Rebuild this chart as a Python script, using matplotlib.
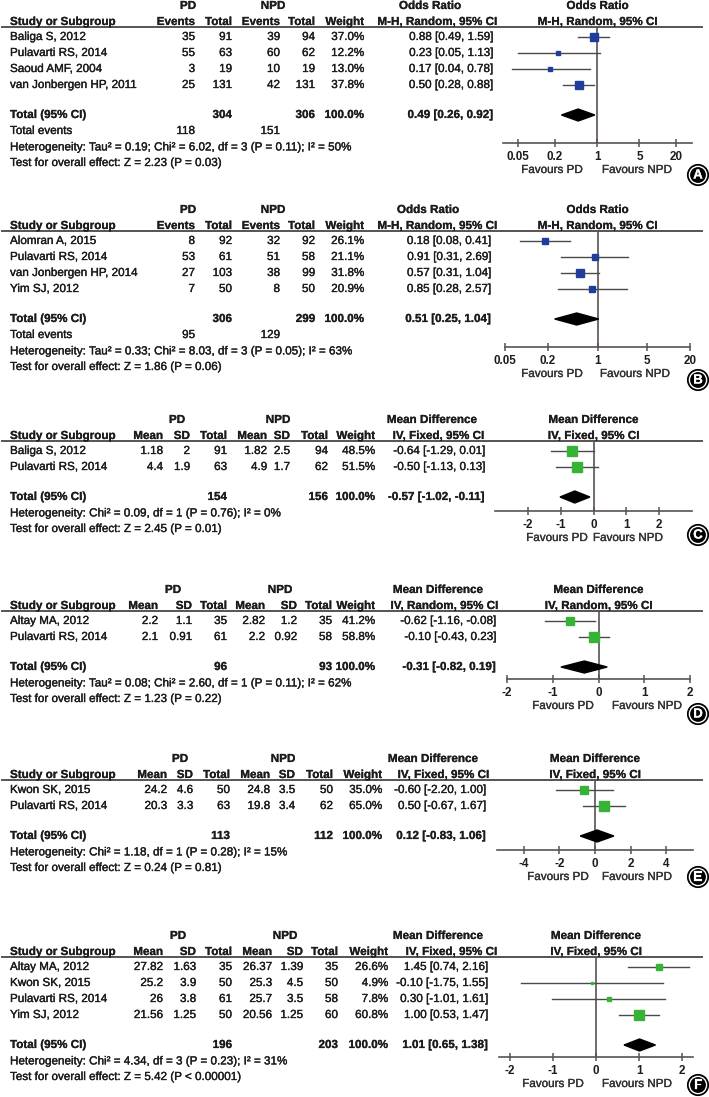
import matplotlib
matplotlib.use('Agg')
import matplotlib.pyplot as plt
import matplotlib.patheffects as pe_
from matplotlib.patches import Circle, Polygon
import numpy as np

plt.rcParams['font.family'] = ['Liberation Sans', 'DejaVu Sans']
plt.rcParams['font.size'] = 8.4

W, H = 709, 1097

# ---------------- data ----------------
# A - odds ratio
a_studies = ['Baliga S, 2012', 'Pulavarti RS, 2014', 'Saoud AMF, 2004', 'van Jonbergen HP, 2011']
a_pd_events = [35, 55, 3, 25]
a_pd_total = [91, 63, 19, 131]
a_npd_events = [39, 60, 10, 42]
a_npd_total = [94, 62, 19, 131]
a_weight = [37.0, 12.2, 13.0, 37.8]
a_or = [0.88, 0.23, 0.17, 0.50]
a_lo = [0.49, 0.05, 0.04, 0.28]
a_hi = [1.59, 1.13, 0.78, 0.88]
a_pooled = [0.49, 0.26, 0.92]
a_totals = [304, 306]
a_events = [118, 151]
a_het = 'Heterogeneity: Tau² = 0.19; Chi² = 6.02, df = 3 (P = 0.11); I² = 50%'
a_test = 'Test for overall effect: Z = 2.23 (P = 0.03)'

# B - odds ratio
b_studies = ['Alomran A, 2015', 'Pulavarti RS, 2014', 'van Jonbergen HP, 2014', 'Yim SJ, 2012']
b_pd_events = [8, 53, 27, 7]
b_pd_total = [92, 61, 103, 50]
b_npd_events = [32, 51, 38, 8]
b_npd_total = [92, 58, 99, 50]
b_weight = [26.1, 21.1, 31.8, 20.9]
b_or = [0.18, 0.91, 0.57, 0.85]
b_lo = [0.08, 0.31, 0.31, 0.28]
b_hi = [0.41, 2.69, 1.04, 2.57]
b_pooled = [0.51, 0.25, 1.04]
b_totals = [306, 299]
b_events = [95, 129]
b_het = 'Heterogeneity: Tau² = 0.33; Chi² = 8.03, df = 3 (P = 0.05); I² = 63%'
b_test = 'Test for overall effect: Z = 1.86 (P = 0.06)'

# C - mean difference
c_studies = ['Baliga S, 2012', 'Pulavarti RS, 2014']
c_pd_mean = [1.18, 4.4]
c_pd_sd = [2, 1.9]
c_pd_total = [91, 63]
c_npd_mean = [1.82, 4.9]
c_npd_sd = [2.5, 1.7]
c_npd_total = [94, 62]
c_weight = [48.5, 51.5]
c_md = [-0.64, -0.50]
c_lo = [-1.29, -1.13]
c_hi = [0.01, 0.13]
c_pooled = [-0.57, -1.02, -0.11]
c_totals = [154, 156]
c_het = 'Heterogeneity: Chi² = 0.09, df = 1 (P = 0.76); I² = 0%'
c_test = 'Test for overall effect: Z = 2.45 (P = 0.01)'

# D - mean difference
d_studies = ['Altay MA, 2012', 'Pulavarti RS, 2014']
d_pd_mean = [2.2, 2.1]
d_pd_sd = [1.1, 0.91]
d_pd_total = [35, 61]
d_npd_mean = [2.82, 2.2]
d_npd_sd = [1.2, 0.92]
d_npd_total = [35, 58]
d_weight = [41.2, 58.8]
d_md = [-0.62, -0.10]
d_lo = [-1.16, -0.43]
d_hi = [-0.08, 0.23]
d_pooled = [-0.31, -0.82, 0.19]
d_totals = [96, 93]
d_het = 'Heterogeneity: Tau² = 0.08; Chi² = 2.60, df = 1 (P = 0.11); I² = 62%'
d_test = 'Test for overall effect: Z = 1.23 (P = 0.22)'

# E - mean difference
e_studies = ['Kwon SK, 2015', 'Pulavarti RS, 2014']
e_pd_mean = [24.2, 20.3]
e_pd_sd = [4.6, 3.3]
e_pd_total = [50, 63]
e_npd_mean = [24.8, 19.8]
e_npd_sd = [3.5, 3.4]
e_npd_total = [50, 62]
e_weight = [35.0, 65.0]
e_md = [-0.60, 0.50]
e_lo = [-2.20, -0.67]
e_hi = [1.00, 1.67]
e_pooled = [0.12, -0.83, 1.06]
e_totals = [113, 112]
e_het = 'Heterogeneity: Chi² = 1.18, df = 1 (P = 0.28); I² = 15%'
e_test = 'Test for overall effect: Z = 0.24 (P = 0.81)'

# F - mean difference
f_studies = ['Altay MA, 2012', 'Kwon SK, 2015', 'Pulavarti RS, 2014', 'Yim SJ, 2012']
f_pd_mean = [27.82, 25.2, 26, 21.56]
f_pd_sd = [1.63, 3.9, 3.8, 1.25]
f_pd_total = [35, 50, 61, 50]
f_npd_mean = [26.37, 25.3, 25.7, 20.56]
f_npd_sd = [1.39, 4.5, 3.5, 1.25]
f_npd_total = [35, 50, 58, 60]
f_weight = [26.6, 4.9, 7.8, 60.8]
f_md = [1.45, -0.10, 0.30, 1.00]
f_lo = [0.74, -1.75, -1.01, 0.53]
f_hi = [2.16, 1.55, 1.61, 1.47]
f_pooled = [1.01, 0.65, 1.38]
f_totals = [196, 203]
f_het = 'Heterogeneity: Chi² = 4.34, df = 3 (P = 0.23); I² = 31%'
f_test = 'Test for overall effect: Z = 5.42 (P < 0.00001)'

or_ticks = [0.05, 0.2, 1, 5, 20]
md_ticks_small = [-2, -1, 0, 1, 2]
md_ticks_wide = [-4, -2, 0, 2, 4]

BLUE = '#1f3d9b'
GREEN = '#36b336'
INK = '#1c1c1c'
GREY = '#4a4a4a'
AXIS = '#5a5252'

panels = [
    dict(letter='A', top=22, log=True, studies=a_studies,
         cols=[('Events', 195, a_pd_events), ('Total', 232, a_pd_total),
               ('Events', 280, a_npd_events), ('Total', 315, a_npd_total)],
         tot_x=(232, 315), totals=a_totals, ev_x=(195, 280), events=a_events,
         grp_x=(188, 273), w_x=364, weight=a_weight,
         est=a_or, lo=a_lo, hi=a_hi, pooled=a_pooled, est_x=493,
         meas='Odds Ratio', meas_x=430, method='M-H, Random, 95% CI', method_x=497,
         het=a_het, test=a_test, ax_x=(503, 692), xlim=(0.0283, 36.7),
         ticks=or_ticks, axis_y=143, fav_x=(552, 637), circ_y=175, color=BLUE),
    dict(letter='B', top=226, log=True, studies=b_studies,
         cols=[('Events', 195, b_pd_events), ('Total', 232, b_pd_total),
               ('Events', 280, b_npd_events), ('Total', 315, b_npd_total)],
         tot_x=(232, 315), totals=b_totals, ev_x=(195, 280), events=b_events,
         grp_x=(188, 273), w_x=364, weight=b_weight,
         est=b_or, lo=b_lo, hi=b_hi, pooled=b_pooled, est_x=491,
         meas='Odds Ratio', meas_x=428, method='M-H, Random, 95% CI', method_x=497,
         het=b_het, test=b_test, ax_x=(505, 690), xlim=(0.05, 20),
         ticks=or_ticks, axis_y=347, fav_x=(552, 635), circ_y=380, color=BLUE),
    dict(letter='C', top=436, log=False, studies=c_studies,
         cols=[('Mean', 163, c_pd_mean), ('SD', 190, c_pd_sd), ('Total', 227, c_pd_total),
               ('Mean', 267, c_npd_mean), ('SD', 290, c_npd_sd), ('Total', 328, c_npd_total)],
         tot_x=(227, 328), totals=c_totals, ev_x=None, events=None,
         grp_x=(177, 278), w_x=375, weight=c_weight,
         est=c_md, lo=c_lo, hi=c_hi, pooled=c_pooled, est_x=485,
         meas='Mean Difference', meas_x=432, method='IV, Fixed, 95% CI', method_x=484,
         het=c_het, test=c_test, ax_x=(495, 692), xlim=(-3, 3),
         ticks=md_ticks_small, axis_y=511, fav_x=(557, 628), circ_y=535, color=GREEN),
    dict(letter='D', top=606, log=False, studies=d_studies,
         cols=[('Mean', 158, d_pd_mean), ('SD', 192, d_pd_sd), ('Total', 227, d_pd_total),
               ('Mean', 265, d_npd_mean), ('SD', 297, d_npd_sd), ('Total', 332, d_npd_total)],
         tot_x=(227, 332), totals=d_totals, ev_x=None, events=None,
         grp_x=(173, 280), w_x=375, weight=d_weight,
         est=d_md, lo=d_lo, hi=d_hi, pooled=d_pooled, est_x=496,
         meas='Mean Difference', meas_x=438, method='IV, Random, 95% CI', method_x=498,
         het=d_het, test=d_test, ax_x=(507, 690), xlim=(-2, 2),
         ticks=md_ticks_small, axis_y=679, fav_x=(563, 647), circ_y=714, color=GREEN),
    dict(letter='E', top=775, log=False, studies=e_studies,
         cols=[('Mean', 167, e_pd_mean), ('SD', 193, e_pd_sd), ('Total', 230, e_pd_total),
               ('Mean', 270, e_npd_mean), ('SD', 295, e_npd_sd), ('Total', 333, e_npd_total)],
         tot_x=(230, 333), totals=e_totals, ev_x=None, events=None,
         grp_x=(180, 283), w_x=382, weight=e_weight,
         est=e_md, lo=e_lo, hi=e_hi, pooled=e_pooled, est_x=486,
         meas='Mean Difference', meas_x=433, method='IV, Fixed, 95% CI', method_x=489,
         het=e_het, test=e_test, ax_x=(497, 693), xlim=(-5.5, 5.5),
         ticks=md_ticks_wide, axis_y=850, fav_x=(558, 637), circ_y=877, color=GREEN),
    dict(letter='F', top=952, log=False, studies=f_studies,
         cols=[('Mean', 163, f_pd_mean), ('SD', 196, f_pd_sd), ('Total', 232, f_pd_total),
               ('Mean', 272, f_npd_mean), ('SD', 303, f_npd_sd), ('Total', 338, f_npd_total)],
         tot_x=(232, 338), totals=f_totals, ev_x=None, events=None,
         grp_x=(178, 285), w_x=388, weight=f_weight,
         est=f_md, lo=f_lo, hi=f_hi, pooled=f_pooled, est_x=488,
         meas='Mean Difference', meas_x=438, method='IV, Fixed, 95% CI', method_x=497,
         het=f_het, test=f_test, ax_x=(499, 693), xlim=(-2.25, 2.25),
         ticks=md_ticks_small, axis_y=1057, fav_x=(553, 637), circ_y=1085, color=GREEN),
]

fig = plt.figure(figsize=(W / 100, H / 100), dpi=100)
bg = fig.add_axes([0, 0, 1, 1])
bg.set_xlim(0, W)
bg.set_ylim(H, 0)
bg.axis('off')


def txt(x, y, s, ha='left', bold=False, color=INK, **kw):
    t = bg.text(x, y, s, ha=ha, va='center', color=color,
                fontweight='bold' if bold else 'normal', **kw)
    # the scan looks a touch heavier than plain text
    t.set_path_effects([pe_.withStroke(linewidth=0.15 if bold else 0.25, foreground=color)])


def fmt(v):
    return f'{v:g}'


for p in panels:
    top = p['top']
    rows = [top + 15 + 16 * i for i in range(len(p['studies']))]
    total_y = rows[-1] + 30
    last = total_y + 16 if p['events'] else total_y
    line_y = top + 5

    # header
    txt(p['grp_x'][0], top - 16, 'PD', ha='center', bold=True)
    txt(p['grp_x'][1], top - 16, 'NPD', ha='center', bold=True)
    txt(10, top, 'Study or Subgroup', bold=True)
    for name, x, vals in p['cols']:
        txt(x, top, name, ha='right', bold=True)
    txt(p['w_x'], top, 'Weight', ha='right', bold=True)
    txt(p['meas_x'], top - 16, p['meas'], ha='center', bold=True)
    txt(p['method_x'], top, p['method'], ha='right', bold=True)
    fx0, fx1 = p['ax_x']
    txt((fx0 + fx1) / 2, top - 16, p['meas'], ha='center', bold=True)
    txt((fx0 + fx1) / 2, top, p['method'], ha='center', bold=True)
    bg.plot([2, 702], [line_y, line_y], color=AXIS, lw=1.4)

    # study rows
    for i, y in enumerate(rows):
        txt(10, y, p['studies'][i])
        for name, x, vals in p['cols']:
            txt(x, y, fmt(vals[i]), ha='right')
        txt(p['w_x'], y, f"{p['weight'][i]:.1f}%", ha='right')
        txt(p['est_x'], y, f"{p['est'][i]:.2f} [{p['lo'][i]:.2f}, {p['hi'][i]:.2f}]", ha='right')

    # totals
    txt(10, total_y, 'Total (95% CI)', bold=True)
    txt(p['tot_x'][0], total_y, str(p['totals'][0]), ha='right', bold=True)
    txt(p['tot_x'][1], total_y, str(p['totals'][1]), ha='right', bold=True)
    txt(p['w_x'], total_y, '100.0%', ha='right', bold=True)
    pe, pl, ph = p['pooled']
    txt(p['est_x'], total_y, f'{pe:.2f} [{pl:.2f}, {ph:.2f}]', ha='right', bold=True)
    if p['events']:
        txt(10, total_y + 16, 'Total events')
        txt(p['ev_x'][0], total_y + 16, str(p['events'][0]), ha='right')
        txt(p['ev_x'][1], total_y + 16, str(p['events'][1]), ha='right')
    txt(10, last + 16, p['het'])
    txt(10, last + 32, p['test'])

    # forest plot
    ay = p['axis_y']
    ax = fig.add_axes([fx0 / W, 1 - ay / H, (fx1 - fx0) / W, (ay - line_y) / H])
    ax.patch.set_alpha(0)
    if p['log']:
        ax.set_xscale('log')
    ax.set_xlim(*p['xlim'])
    ax.set_ylim(ay, line_y)
    null = 1 if p['log'] else 0
    ax.axvline(null, color=AXIS, lw=1.2, zorder=1)
    for i, y in enumerate(rows):
        ax.plot([p['lo'][i], p['hi'][i]], [y, y], color=GREY, lw=1.0, zorder=2)
        side = 1.35 * np.sqrt(p['weight'][i])
        ax.plot(p['est'][i], y, marker='s', ms=side * 0.72, color=p['color'],
                mec=p['color'], zorder=3, ls='none')
    h = 6
    ax.add_patch(Polygon([[pl, total_y], [pe, total_y - h], [ph, total_y], [pe, total_y + h]],
                         closed=True, color='black', zorder=3))
    for s in ['top', 'left', 'right']:
        ax.spines[s].set_visible(False)
    ax.spines['bottom'].set_color(AXIS)
    ax.spines['bottom'].set_linewidth(1.2)
    ax.set_yticks([])
    ax.set_xticks(p['ticks'])
    ax.set_xticklabels([fmt(t) for t in p['ticks']], fontweight='bold', color=INK)
    ax.xaxis.set_minor_locator(matplotlib.ticker.NullLocator())
    ax.tick_params(axis='x', direction='inout', length=6, width=1.1, color=AXIS, pad=2.5)

    txt(p['fav_x'][0], ay + 27, 'Favours PD', ha='center', color='#333333')
    txt(p['fav_x'][1], ay + 27, 'Favours NPD', ha='center', color='#333333')

    # panel letter
    cy = p['circ_y']
    bg.add_patch(Circle((698, cy), 10.5, facecolor='black', edgecolor='black', lw=0.8))
    bg.add_patch(Circle((698, cy), 8.6, facecolor='black', edgecolor='white', lw=1.0))
    txt(698, cy + 0.5, p['letter'], ha='center', bold=True, color='white', fontsize=9.5)

fig.savefig('out.png', dpi=100, facecolor='white')
